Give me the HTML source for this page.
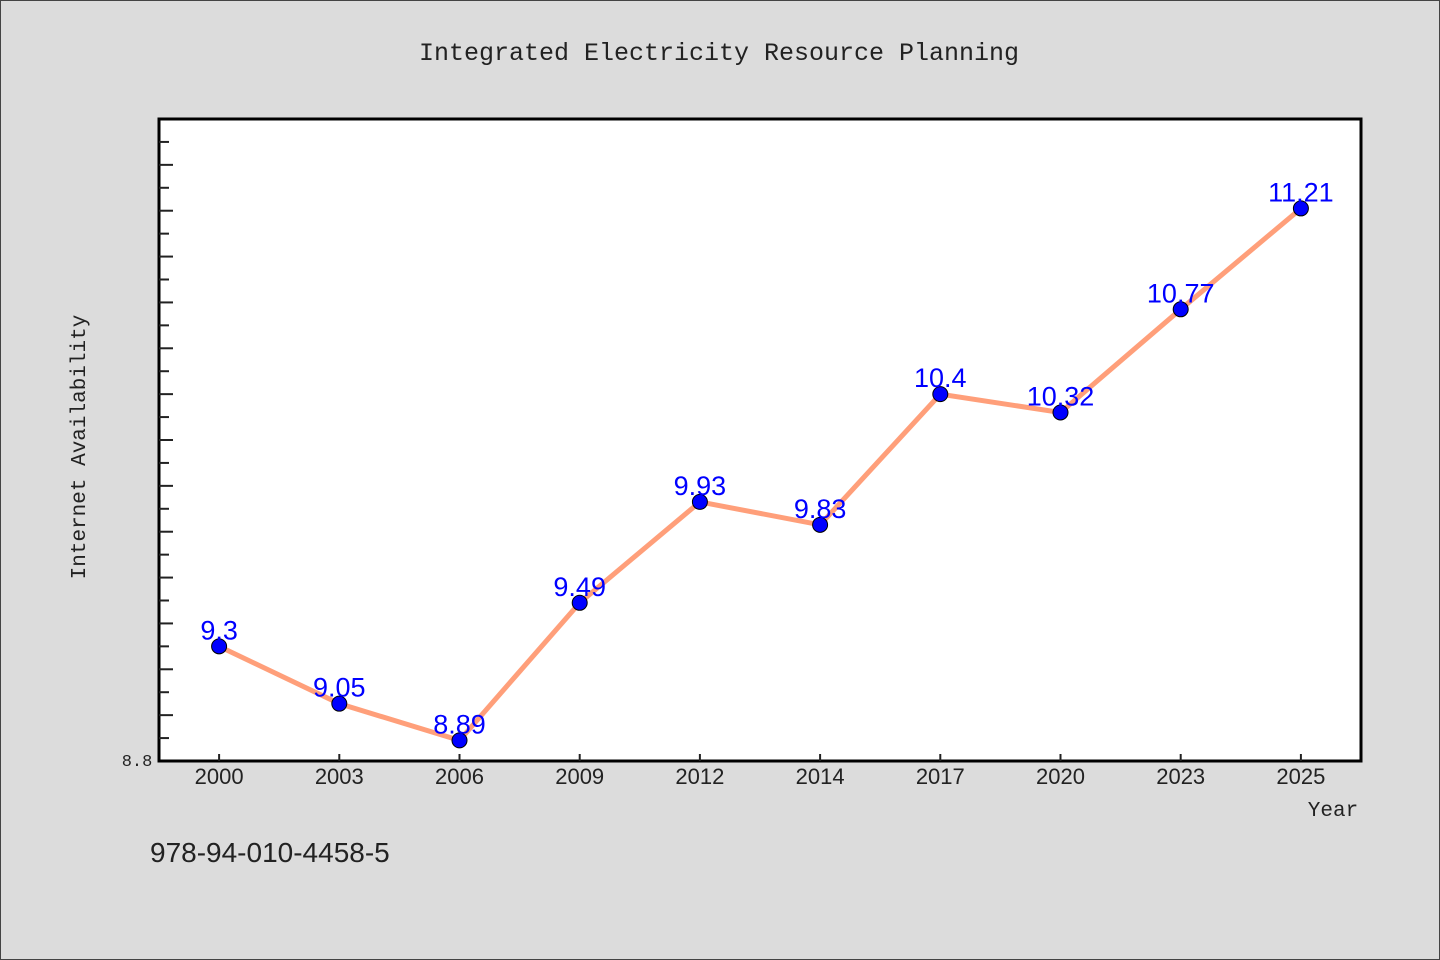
<!DOCTYPE html>
<html><head><meta charset="utf-8"><style>
body{margin:0;background:#dcdcdc;}
svg{display:block;font-family:"Liberation Mono","DejaVu Sans Mono",monospace;}
</style></head><body>
<svg width="1440" height="960">
<rect x="0.5" y="0.5" width="1439" height="959" fill="#dcdcdc" stroke="#444"/>
<text x="719" y="60" text-anchor="middle" font-size="25" fill="#222">Integrated Electricity Resource Planning</text>
<rect x="159" y="119" width="1202" height="642" fill="#fff" stroke="#000" stroke-width="3"/>
<g id="yticks"></g>
<g id="xticks"></g>
<text x="137" y="766" text-anchor="middle" font-size="17" fill="#222">8.8</text>
<text transform="translate(85,447) rotate(-90)" text-anchor="middle" font-size="21" fill="#222">Internet Availability</text>
<text x="1333" y="816" text-anchor="middle" font-size="21" fill="#222">Year</text>
<text x="150" y="862" font-family="Liberation Sans, sans-serif" font-size="28" fill="#222">978-94-010-4458-5</text>
<g id="series"></g>
</svg>
<script>
const categories=["2000","2003","2006","2009","2012","2014","2017","2020","2023","2025"];
const values=[9.3,9.05,8.89,9.49,9.93,9.83,10.4,10.32,10.77,11.21];
const valueLabels=["9.3","9.05","8.89","9.49","9.93","9.83","10.4","10.32","10.77","11.21"];
const NS="http://www.w3.org/2000/svg";
const L=159,R=1361,T=119,B=761,ymin=8.8,ymax=11.6;
const band=(R-L)/categories.length;
const xs=i=>L+band*(i+0.5);
const ys=v=>B-(v-ymin)/(ymax-ymin)*(B-T);
function mk(t,a,p){const e=document.createElementNS(NS,t);for(const k in a)e.setAttribute(k,a[k]);p.appendChild(e);return e;}
const yt=document.getElementById('yticks');
for(let k=1;k<=Math.round((ymax-ymin)*10)-1;k++){
 const y=ys(ymin+k*0.1);
 const ln=mk('line',{x1:L,x2:L+(k%2===0?14:10),y1:y,y2:y,stroke:'#222','stroke-width':2},yt);
 
 
}
const xt=document.getElementById('xticks');
categories.forEach((c,i)=>{
 const ln=mk('line',{x1:xs(i),x2:xs(i),y1:B,y2:B-7,stroke:'#222','stroke-width':2},xt);
 
 
 const t=mk('text',{x:xs(i),y:B+23,'text-anchor':'middle','font-size':22,'font-family':'Liberation Sans, sans-serif',fill:'#222'},xt);
 t.textContent=c;
 
 
});
const s=document.getElementById('series');
const pl=mk('polyline',{points:values.map((v,i)=>xs(i)+','+ys(v)).join(' '),fill:'none',stroke:'#ff9f7a','stroke-width':5},s);


values.forEach((v,i)=>{
 const c=mk('circle',{cx:xs(i),cy:ys(v),r:7.5,fill:'#0000ff',stroke:'#000','stroke-width':1},s);
 
 
 const t=mk('text',{x:xs(i),y:ys(v)-7,'text-anchor':'middle','font-size':27,'font-family':'Liberation Sans, sans-serif',fill:'#0000ff'},s);
 t.textContent=valueLabels[i];
 
 
});
</script>
</body></html>
